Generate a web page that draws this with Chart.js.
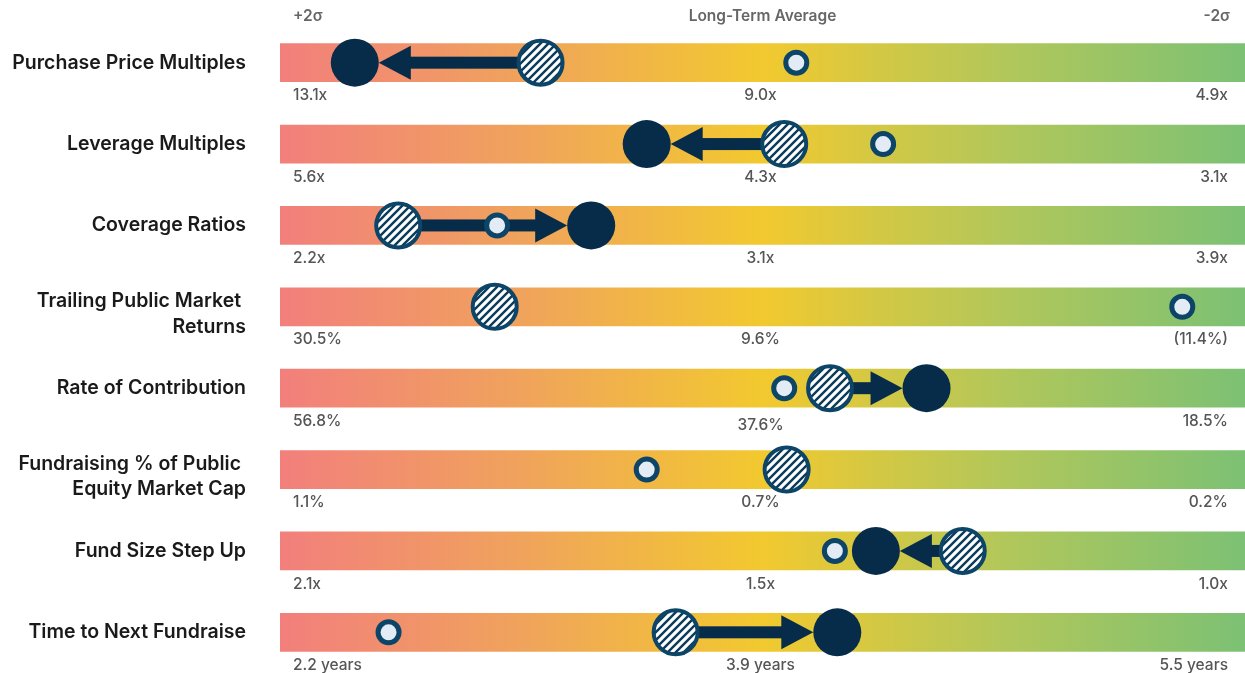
<!DOCTYPE html>
<html lang="en">
<head>
<meta charset="UTF-8">
<title>Market Indicators vs Long-Term Average</title>
<script src="https://cdn.jsdelivr.net/npm/chart.js"></script>
<style>
  html, body { margin: 0; padding: 0; background: #fff; overflow: hidden; }
  #wrap { position: relative; width: 1245px; height: 673px; }
</style>
</head>
<body>
<div id="wrap"><canvas id="chart"></canvas></div>
<script>
  const rows = [
    'Purchase Price Multiples',
    'Leverage Multiples',
    'Coverage Ratios',
    ['Trailing Public Market ', 'Returns'],
    'Rate of Contribution',
    ['Fundraising % of Public ', 'Equity Market Cap'],
    'Fund Size Step Up',
    'Time to Next Fundraise'
  ];
  const highLabels = ['13.1x', '5.6x', '2.2x', '30.5%', '56.8%', '1.1%', '2.1x', '2.2 years'];
  const avgLabels  = ['9.0x', '4.3x', '3.1x', '9.6%', '37.6%', '0.7%', '1.5x', '3.9 years'];
  const lowLabels  = ['4.9x', '3.1x', '3.9x', '(11.4%)', '18.5%', '0.2%', '1.0x', '5.5 years'];
  const headerLabels = ['+2σ', 'Long-Term Average', '-2σ'];

  // positions in standard deviations from the long-term average (+2σ on the left)
  const rangeSigma = [2, -2];
  const earlier = [-0.14, -0.50, 1.10, -1.74, -0.09, 0.48, -0.30, 1.55];  // small ring
  const prior   = [0.92, -0.09, 1.51, 1.11, -0.28, -0.10, -0.83, 0.36];   // hatched
  const current = [1.69, 0.48, 0.71, null, -0.68, null, -0.47, -0.31];    // solid

  const NAVY = '#062c4a';
  const RING = '#0c4568';

  const toPoints = arr => arr
    .map((v, i) => v == null ? null : { x: v, y: i })
    .filter(p => p);

  // diagonal hatch fill for the prior-period marker
  function hatch() {
    const s = 8;
    const c = document.createElement('canvas');
    c.width = s; c.height = s;
    const g = c.getContext('2d');
    g.fillStyle = '#fff';
    g.fillRect(0, 0, s, s);
    g.strokeStyle = '#0b3b5a';
    g.lineWidth = 2.4;
    g.beginPath();
    g.moveTo(0, s); g.lineTo(s, 0);
    g.moveTo(-2, 2); g.lineTo(2, -2);
    g.moveTo(s - 2, s + 2); g.lineTo(s + 2, s - 2);
    g.stroke();
    return g.createPattern(c, 'repeat');
  }

  function barGradient(ctx) {
    const { chart } = ctx;
    const area = chart.chartArea;
    if (!area) return '#f2c92f';
    const g = chart.ctx.createLinearGradient(area.left, 0, area.right, 0);
    g.addColorStop(0, '#f27f7c');
    g.addColorStop(0.25, '#f0a35c');
    g.addColorStop(0.5, '#f2c92f');
    g.addColorStop(0.75, '#b2c75a');
    g.addColorStop(1, '#7cc174');
    return g;
  }

  // arrows from prior to current, drawn right after the bars
  const arrows = {
    id: 'arrows',
    afterDatasetDraw(chart, args) {
      if (args.index !== 0) return;
      const { ctx, scales: { x, y } } = chart;
      const solidR = 24, headLen = 32, headHalf = 17, shaft = 12;
      ctx.save();
      ctx.fillStyle = NAVY;
      rows.forEach((r, i) => {
        if (current[i] == null) return;
        const x0 = x.getPixelForValue(prior[i]);
        const x1 = x.getPixelForValue(current[i]);
        const yy = y.getPixelForValue(i);
        const d = Math.sign(x1 - x0);
        const tip = x1 - d * solidR;
        const base = tip - d * headLen;
        ctx.fillRect(Math.min(x0, base + d), yy - shaft / 2, Math.abs(base + d - x0), shaft);
        ctx.beginPath();
        ctx.moveTo(tip, yy);
        ctx.lineTo(base, yy - headHalf);
        ctx.lineTo(base, yy + headHalf);
        ctx.closePath();
        ctx.fill();
      });
      ctx.restore();
    }
  };

  // header and range labels under each bar
  const scaleText = {
    id: 'scaleText',
    afterDraw(chart) {
      const { ctx, scales: { x, y } } = chart;
      const left = x.getPixelForValue(rangeSigma[0]);
      const mid = x.getPixelForValue(0);
      const right = x.getPixelForValue(rangeSigma[1]);
      ctx.save();
      ctx.textBaseline = 'middle';
      ctx.font = '600 15.5px Inter, sans-serif';
      ctx.fillStyle = '#666';
      const hy = y.getPixelForValue(0) - 46;
      ctx.textAlign = 'left';   ctx.fillText(headerLabels[0], left + 13, hy);
      ctx.textAlign = 'center'; ctx.fillText(headerLabels[1], mid, hy);
      ctx.textAlign = 'right';  ctx.fillText(headerLabels[2], right - 15, hy);

      ctx.font = '500 15.5px Inter, sans-serif';
      ctx.fillStyle = '#555';
      rows.forEach((r, i) => {
        const ly = y.getPixelForValue(i) + 33;
        ctx.textAlign = 'left';   ctx.fillText(highLabels[i], left + 13, ly);
        ctx.textAlign = 'center'; ctx.fillText(avgLabels[i], mid - 2, i === 4 ? ly + 4 : ly);
        ctx.textAlign = 'right';  ctx.fillText(lowLabels[i], right - 17, ly);
      });
      ctx.restore();
    }
  };

  new Chart(document.getElementById('chart'), {
    type: 'scatter',
    data: {
      datasets: [
        {
          type: 'bar',
          indexAxis: 'y',
          data: rows.map((r, i) => ({ x: rangeSigma, y: i })),
          backgroundColor: barGradient,
          borderWidth: 0,
          borderSkipped: false,
          barThickness: 38,
          order: 10
        },
        {
          label: 'Earlier',
          data: toPoints(earlier),
          pointStyle: 'circle',
          pointRadius: 10.5,
          borderWidth: 5,
          borderColor: RING,
          backgroundColor: '#e3ecf4',
          order: 3
        },
        {
          label: 'Prior',
          data: toPoints(prior),
          pointStyle: 'circle',
          pointRadius: 22,
          borderWidth: 4,
          borderColor: RING,
          backgroundColor: hatch(),
          order: 2
        },
        {
          label: 'Current',
          data: toPoints(current),
          pointStyle: 'circle',
          pointRadius: 24,
          borderWidth: 0,
          backgroundColor: NAVY,
          order: 1
        }
      ]
    },
    options: {
      responsive: true,
      maintainAspectRatio: false,
      animation: false,
      events: [],
      layout: { autoPadding: false, padding: { top: 22, bottom: 0, right: 0, left: 0 } },
      scales: {
        x: {
          type: 'linear',
          min: -2,
          max: 2,
          reverse: true,
          offset: false,
          display: false
        },
        y: {
          type: 'linear',
          min: -0.5,
          max: 7.5,
          reverse: true,
          offset: false,
          // two-line labels sit a little below the bar centre in the original
          afterBuildTicks: s => {
            s.ticks = rows.map((r, i) => ({ value: i + (Array.isArray(r) ? 0.09 : 0) }));
          },
          afterFit: s => { s.width = 280; s.paddingTop = 0; s.paddingBottom = 0; },
          grid: { display: false, offset: false, drawTicks: true, tickLength: 34 },
          border: { display: false },
          ticks: {
            autoSkip: false,
            padding: 0,
            color: '#1a1a1a',
            font: { family: 'Inter, sans-serif', size: 19.5, weight: '600', lineHeight: 1.3 },
            callback: v => rows[Math.round(v)]
          }
        }
      },
      plugins: {
        legend: { display: false },
        tooltip: { enabled: false }
      }
    },
    plugins: [arrows, scaleText]
  });
</script>
</body>
</html>
